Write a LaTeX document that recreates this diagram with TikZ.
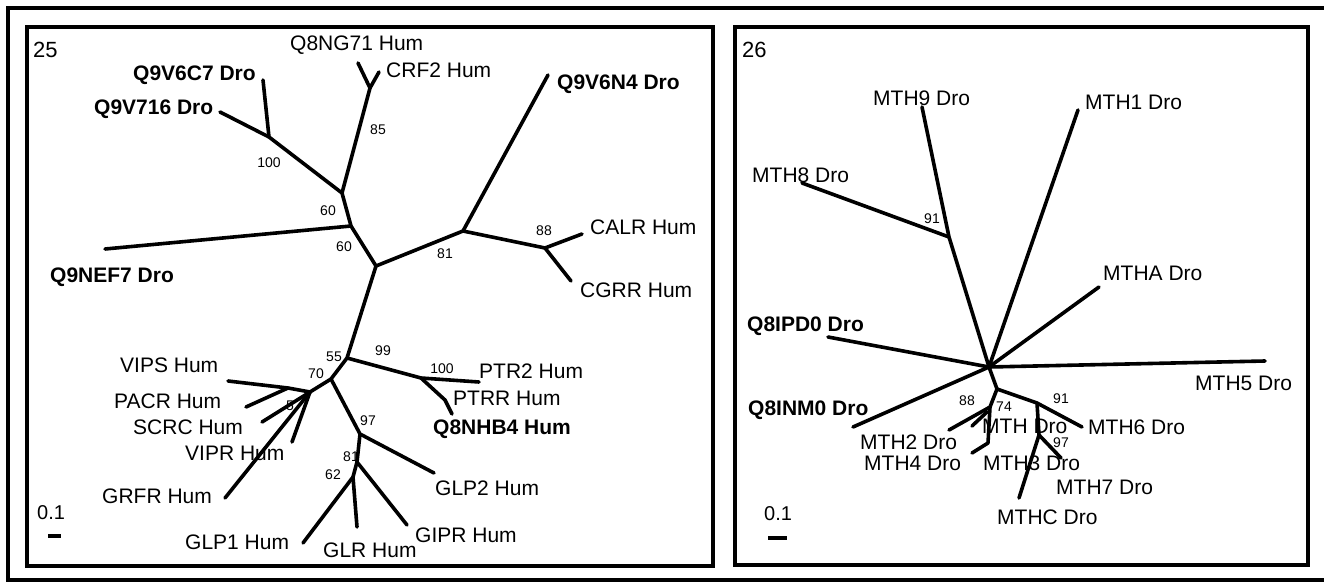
\documentclass[tikz,border=0pt]{standalone}
\usepackage{fontspec}
\setmainfont{Liberation Sans}
\begin{document}
\begin{tikzpicture}[x=1pt,y=-1pt,
  br/.style={line width=3.6pt, line cap=round, line join=round},
  frame/.style={line width=3.2pt},
  lab/.style={anchor=west, inner sep=0pt, font=\fontsize{21}{21}\selectfont, text height=15pt, text depth=0pt},
  blab/.style={lab, font=\fontsize{21}{21}\selectfont\bfseries},
  bsv/.style={anchor=center, inner sep=0pt, font=\fontsize{14}{14}\selectfont, text height=10pt, text depth=0pt}]
\useasboundingbox (0,0) rectangle (1324,583);

% outer frame (open to the right) and the two panels
\coordinate (ftr) at (1324,8);
\coordinate (ftl) at (8,8);
\coordinate (fbl) at (8,580);
\coordinate (fbr) at (1324,580);
\draw[frame] (ftr) -- (ftl) -- (fbl) -- (fbr);
\coordinate (p1a) at (27,27);   \coordinate (p1b) at (713,566);
\coordinate (p2a) at (735,27);  \coordinate (p2b) at (1308,565);
\draw[frame] (p1a) rectangle (p1b);
\draw[frame] (p2a) rectangle (p2b);

%% ---------------- tree 25 ----------------
\node[lab, font=\fontsize{22}{22}\selectfont] (t25) at (33,50) {25};
\node[lab] (lq8ng71) at (290,43) {Q8NG71 Hum};
\node[lab] (lcrf2) at (386,70) {CRF2 Hum};
\node[blab] (lq9v6c7) at (133,73) {Q9V6C7 Dro};
\node[blab] (lq9v716) at (94,107) {Q9V716 Dro};
\node[blab] (lq9v6n4) at (557,82) {Q9V6N4 Dro};
\node[blab] (lq9nef7) at (50,275) {Q9NEF7 Dro};
\node[lab] (lcalr) at (590,227) {CALR Hum};
\node[lab] (lcgrr) at (580,290) {CGRR Hum};
\node[lab] (lvips) at (120,365) {VIPS Hum};
\node[lab] (lpacr) at (114,401) {PACR Hum};
\node[lab] (lscrc) at (133,427) {SCRC Hum};
\node[lab] (lvipr) at (185,453) {VIPR Hum};
\node[lab] (lgrfr) at (102,496) {GRFR Hum};
\node[lab] (lptr2) at (479,371) {PTR2 Hum};
\node[lab] (lptrr) at (453,398) {PTRR Hum};
\node[blab] (lq8nhb4) at (433,427) {Q8NHB4 Hum};
\node[lab] (lglp2) at (435,488) {GLP2 Hum};
\node[lab] (lgipr) at (415,535) {GIPR Hum};
\node[lab] (lglr) at (323,550) {GLR Hum};
\node[lab] (lglp1) at (185,542) {GLP1 Hum};
\node[lab, font=\fontsize{20}{20}\selectfont] (s25) at (37,512) {0.1};

\node[bsv] (b100a) at (269,162) {100};
\node[bsv] (b85) at (378,130) {85};
\node[bsv] (b60a) at (328,210) {60};
\node[bsv] (b60b) at (344,246) {60};
\node[bsv] (b81a) at (445,253) {81};
\node[bsv] (b88a) at (544,230) {88};
\node[bsv] (b55) at (334,356) {55};
\node[bsv] (b70) at (316,373) {70};
\node[bsv] (b5) at (290,405) {5};
\node[bsv] (b99) at (383,350) {99};
\node[bsv] (b100b) at (442,368) {100};
\node[bsv] (b97a) at (368,420) {97};
\node[bsv] (b81b) at (351,456) {81};
\node[bsv] (b62) at (333,474) {62};

% vertices
\coordinate (A) at (269,137);
\coordinate (B) at (342,193);
\coordinate (C) at (370,88);
\coordinate (D) at (351,226);
\coordinate (E) at (376,266);
\coordinate (F) at (463,231);
\coordinate (G) at (545,248);
\coordinate (H) at (347,358);
\coordinate (I) at (331,379);
\coordinate (J) at (310,392);
\coordinate (K) at (288,388);
\coordinate (L) at (360,434);
\coordinate (M) at (357,462);
\coordinate (N) at (353,477);
\coordinate (O) at (421,378);
\coordinate (P) at (445,400);
% tips
\coordinate (q9v6c7) at (263,80);
\coordinate (q9v716) at (220,112);
\coordinate (q8ng71) at (358,63);
\coordinate (crf2) at (379,72);
\coordinate (q9nef7) at (105,249);
\coordinate (q9v6n4) at (548,75);
\coordinate (calr) at (582,234);
\coordinate (cgrr) at (571,281);
\coordinate (ptr2) at (479,382);
\coordinate (q8nhb4) at (452,414);
\coordinate (vips) at (228,381);
\coordinate (pacr) at (246,407);
\coordinate (scrc) at (262,422);
\coordinate (vipr) at (292,442);
\coordinate (grfr) at (225,498);
\coordinate (glp2) at (434,473);
\coordinate (gipr) at (407,525);
\coordinate (glr) at (357,527);
\coordinate (glp1) at (303,543);

\draw[br] (q9v716) -- (A) -- (B) -- (D) -- (E) -- (H) -- (I) -- (J) -- (K) -- (vips);
\draw[br] (q9v6c7) -- (A);
\draw[br] (B) -- (C) -- (q8ng71);
\draw[br] (C) -- (crf2);
\draw[br] (D) -- (q9nef7);
\draw[br] (E) -- (F) -- (G) -- (calr);
\draw[br] (F) -- (q9v6n4);
\draw[br] (G) -- (cgrr);
\draw[br] (H) -- (O) -- (ptr2);
\draw[br] (O) -- (P) -- (q8nhb4);
\draw[br] (K) -- (pacr);
\draw[br] (J) -- (scrc);
\draw[br] (J) -- (vipr);
\draw[br] (J) -- (grfr);
\draw[br] (I) -- (L) -- (glp2);
\draw[br] (L) -- (M) -- (gipr);
\draw[br] (M) -- (N) -- (glr);
\draw[br] (N) -- (glp1);
\coordinate (sb1a) at (48,536); \coordinate (sb1b) at (61,536);
\draw[line width=3.8pt] (sb1a) -- (sb1b);

%% ---------------- tree 26 ----------------
\node[lab, font=\fontsize{22}{22}\selectfont] (t26) at (742,50) {26};
\node[lab] (lmth9) at (873,98) {MTH9 Dro};
\node[lab] (lmth8) at (752,175) {MTH8 Dro};
\node[lab] (lmth1) at (1085,102) {MTH1 Dro};
\node[lab] (lmtha) at (1103,273) {MTHA Dro};
\node[blab] (lq8ipd0) at (747,324) {Q8IPD0 Dro};
\node[blab] (lq8inm0) at (748,408) {Q8INM0 Dro};
\node[lab] (lmth5) at (1195,383) {MTH5 Dro};
\node[lab] (lmth2) at (860,442) {MTH2 Dro};
\node[lab] (lmth4) at (864,463) {MTH4 Dro};
\node[lab] (lmth) at (982,426) {MTH Dro};
\node[lab] (lmth3) at (983,463) {MTH3 Dro};
\node[lab] (lmth6) at (1088,427) {MTH6 Dro};
\node[lab] (lmth7) at (1056,487) {MTH7 Dro};
\node[lab] (lmthc) at (997,517) {MTHC Dro};
\node[lab, font=\fontsize{20}{20}\selectfont] (s26) at (764,513) {0.1};

\node[bsv] (b91a) at (932,218) {91};
\node[bsv] (b88b) at (967,400) {88};
\node[bsv] (b74) at (1004,406) {74};
\node[bsv] (b91b) at (1061,398) {91};
\node[bsv] (b97b) at (1061,442) {97};

% vertices
\coordinate (R) at (989,367);
\coordinate (Q) at (949,237);
\coordinate (S) at (997,389);
\coordinate (T) at (990,407);
\coordinate (U) at (988,443);
\coordinate (V) at (1037,403);
\coordinate (W) at (1039,435);
% tips
\coordinate (mth9) at (922,107);
\coordinate (mth8) at (802,183);
\coordinate (mth1) at (1078,110);
\coordinate (mtha) at (1099,287);
\coordinate (mth5) at (1265,361);
\coordinate (q8ipd0) at (828,337);
\coordinate (q8inm0) at (853,427);
\coordinate (mth2) at (949,430);
\coordinate (mthx) at (972,426);
\coordinate (mthxb) at (987,412);
\coordinate (mth4) at (972,453);
\coordinate (mth6) at (1082,427);
\coordinate (mth7) at (1061,458);
\coordinate (mthc) at (1019,498);

\draw[br] (mth9) -- (Q) -- (R);
\draw[br] (Q) -- (mth8);
\draw[br] (R) -- (mth1);
\draw[br] (R) -- (mtha);
\draw[br] (R) -- (mth5);
\draw[br] (R) -- (q8ipd0);
\draw[br] (R) -- (q8inm0);
\draw[br] (R) -- (S) -- (T) -- (mth2);
\draw[br] (mthx) -- (mthxb);
\draw[br] (T) -- (U) -- (mth4);
\draw[br] (S) -- (V) -- (mth6);
\draw[br] (V) -- (W) -- (mth7);
\draw[br] (W) -- (mthc);
\coordinate (sb2a) at (768,538); \coordinate (sb2b) at (787,538);
\draw[line width=3.8pt] (sb2a) -- (sb2b);
\end{tikzpicture}
\end{document}
